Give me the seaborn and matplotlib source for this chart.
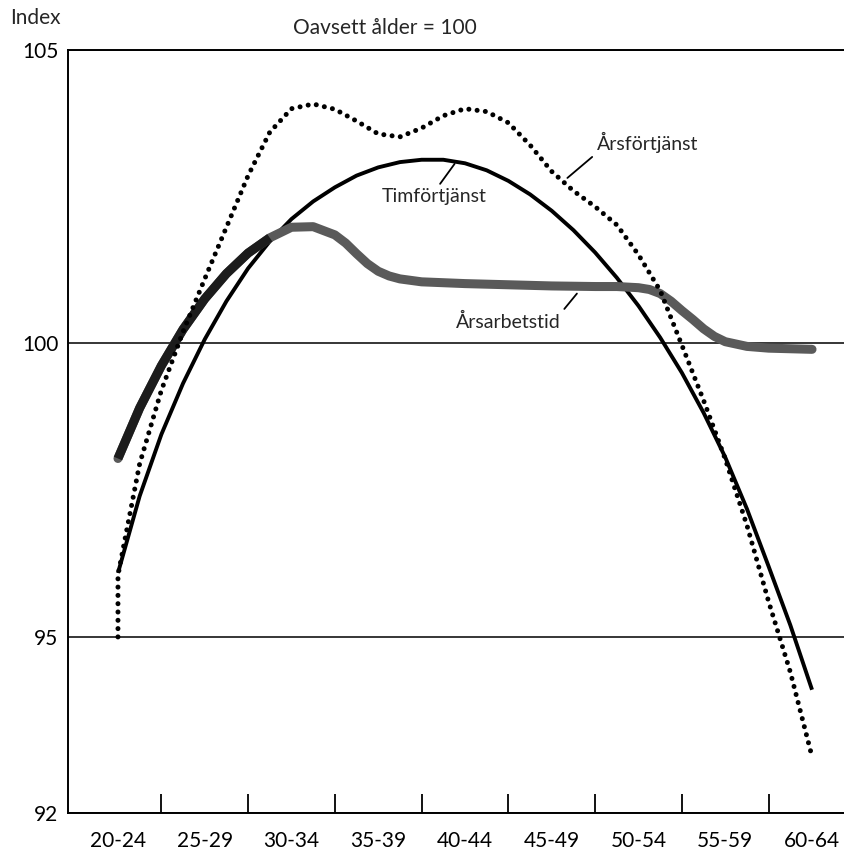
import numpy as np
import pandas as pd
import seaborn as sns
import matplotlib.pyplot as plt

# age groups (x axis) and minor tick positions between them
age_groups = ['20-24', '25-29', '30-34', '35-39', '40-44', '45-49', '50-54', '55-59', '60-64']
group_bounds = [0.5, 1.5, 2.5, 3.5, 4.5, 5.5, 6.5, 7.5]
y_ticks = [92, 95, 100, 105]

# positions along the age axis (group index units) where values were read
pos_quarter = [0, 0.25, 0.5, 0.75, 1, 1.25, 1.5, 1.75, 2, 2.25, 2.5, 2.75, 3, 3.25, 3.5, 3.75,
               4, 4.25, 4.5, 4.75, 5, 5.25, 5.5, 5.75, 6, 6.25, 6.5, 6.75, 7, 7.25, 7.5, 7.75, 8]

# Timförtjänst (hourly earnings index)
tim_x = pos_quarter
tim_y = [96.09, 97.40, 98.45, 99.32, 100.07, 100.72, 101.28, 101.74, 102.12, 102.42, 102.66, 102.86,
         103.0, 103.09, 103.13, 103.13, 103.07, 102.95, 102.77, 102.54, 102.26, 101.93, 101.55, 101.12,
         100.64, 100.10, 99.50, 98.82, 98.06, 97.18, 96.2, 95.2, 94.1]

# Årsförtjänst (annual earnings index) - starts with a vertical rise at the first group
ars_x = [0] + pos_quarter
ars_y = [95.0, 96.05, 97.95, 99.2, 100.2, 101.1, 101.98, 102.86, 103.6, 104.0, 104.08, 103.99, 103.79,
         103.57, 103.52, 103.67, 103.88, 104.0, 103.95, 103.76, 103.38, 102.93, 102.60, 102.33, 102.02,
         101.51, 100.90, 99.97, 99.03, 98.03, 96.9, 95.6, 94.4, 92.96]

# Årsarbetstid (annual working hours index)
tid_x = [0, 0.25, 0.5, 0.75, 1, 1.25, 1.5, 1.75, 2, 2.25, 2.5, 2.625, 2.75, 2.875, 3, 3.125, 3.25, 3.5,
         4, 4.5, 5, 5.5, 5.75, 6, 6.125, 6.25, 6.375, 6.5, 6.625, 6.75, 6.875, 7, 7.25, 7.5, 7.75, 8]
tid_y = [98.04, 98.90, 99.62, 100.24, 100.76, 101.19, 101.54, 101.80, 101.98, 101.99, 101.85, 101.71,
         101.53, 101.36, 101.23, 101.15, 101.10, 101.05, 101.02, 101.0, 100.98, 100.97, 100.97, 100.95,
         100.92, 100.85, 100.72, 100.56, 100.41, 100.25, 100.12, 100.03, 99.95, 99.92, 99.91, 99.90]

tim = pd.DataFrame({'x': tim_x, 'y': tim_y})
ars = pd.DataFrame({'x': ars_x, 'y': ars_y})
tid = pd.DataFrame({'x': tid_x, 'y': tid_y})

sns.set_theme(style='white')
plt.rcParams['font.family'] = ['Lato', 'DejaVu Sans']

W, H = 845, 855
fig = plt.figure(figsize=(W / 100, H / 100), dpi=100)
ax = fig.add_axes([68 / W, 42 / H, 1 - 68 / W, (813 - 50) / H])

sns.lineplot(data=tim, x='x', y='y', ax=ax, color='black', lw=2.8, sort=False,
             estimator=None, solid_capstyle='butt', zorder=3)
sns.lineplot(data=tid, x='x', y='y', ax=ax, color='#5a5a5a', lw=6.5, sort=False,
             estimator=None, solid_capstyle='round', zorder=4)
# the early part of the working-hours curve is printed darker
sns.lineplot(data=tid[tid['x'] <= 1.75], x='x', y='y', ax=ax, color='#1c1c1c', lw=6.5,
             sort=False, estimator=None, solid_capstyle='butt', zorder=4)
sns.lineplot(data=ars, x='x', y='y', ax=ax, color='black', lw=3.6, sort=False, estimator=None,
             linestyle=(0, (0.01, 1.65)), dash_capstyle='round', zorder=5)

ax.set_xlim(-0.576, 8.38)
ax.set_ylim(92, 105)

ax.set_xticks(range(len(age_groups)))
ax.set_xticklabels(age_groups)
ax.set_xticks(group_bounds, minor=True)
ax.tick_params(axis='x', which='major', length=0, pad=13, labelsize=15, colors='black')
ax.tick_params(axis='x', which='minor', direction='in', length=14, width=1.3, color='black', bottom=True)

ax.set_yticks(y_ticks)
ax.set_yticklabels([str(t) for t in y_ticks])
ax.tick_params(axis='y', length=0, pad=7, labelsize=15, colors='black')

ax.yaxis.grid(True, color='black', lw=1.1)
ax.xaxis.grid(False)
ax.set_axisbelow(True)

for side in ['left', 'bottom', 'top']:
    ax.spines[side].set_visible(True)
    ax.spines[side].set_color('black')
    ax.spines[side].set_linewidth(1.4)
ax.spines['right'].set_visible(False)

ax.set_xlabel('')
ax.set_ylabel('')

fig.text(10 / W, 1 - 18 / H, 'Index', fontsize=15, va='center', ha='left')
fig.text(385 / W, 1 - 28 / H, 'Oavsett ålder = 100', fontsize=15, va='center', ha='center')

line_props = dict(arrowstyle='-', color='black', lw=1.3, shrinkA=1, shrinkB=0)
ax.annotate('Årsförtjänst', xy=(5.18, 102.82), xytext=(6.10, 103.42), fontsize=14,
            ha='center', va='center', arrowprops=dict(line_props, relpos=(0, 0)))
ax.annotate('Timförtjänst', xy=(3.88, 103.06), xytext=(3.64, 102.5), fontsize=14,
            ha='center', va='center', arrowprops=dict(line_props, relpos=(0.53, 1)))
ax.annotate('Årsarbetstid', xy=(5.29, 100.85), xytext=(4.50, 100.36), fontsize=14,
            ha='center', va='center', arrowprops=dict(line_props, relpos=(1, 1)))

fig.savefig('out.png', dpi=100)
